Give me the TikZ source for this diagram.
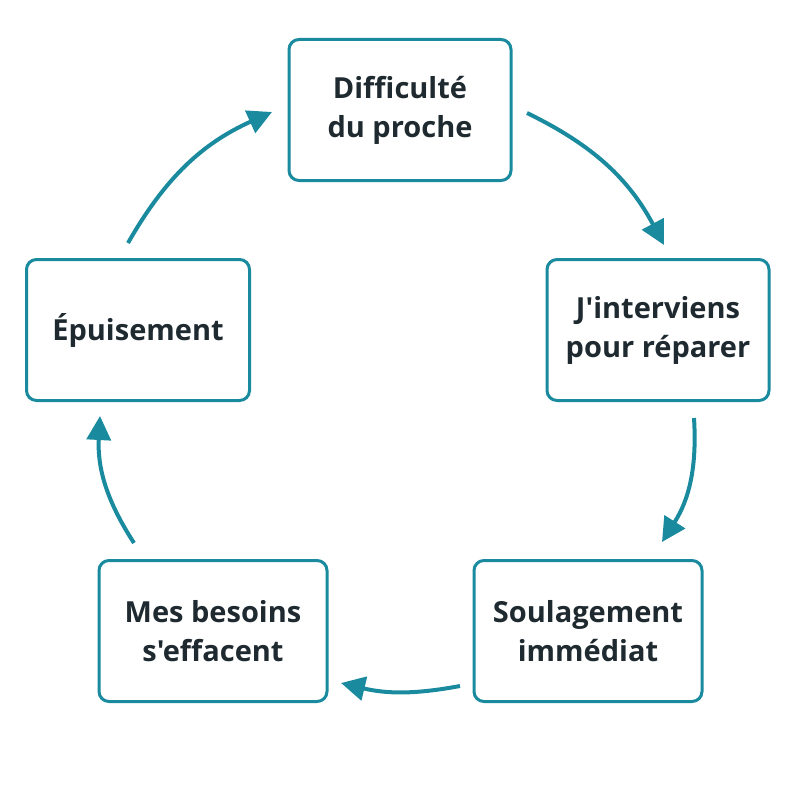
\documentclass[tikz,border=0pt]{standalone}
\usepackage{fontspec}
\setmainfont{Open Sans}[Ligatures=TeXOff]
\usetikzlibrary{arrows.meta}
\definecolor{teal1}{HTML}{1A8A9E}
\definecolor{ink}{HTML}{1E2A30}
\begin{document}
\begin{tikzpicture}[x=1pt,y=-1pt,
  box/.style={draw=teal1,line width=3pt,rounded corners=10pt,minimum width=222pt,minimum height=141pt,align=center,text=ink,font=\fontsize{29}{39}\selectfont\bfseries},
  arr/.style={draw=teal1,line width=4pt,-{Triangle[length=24pt,width=24pt]}}]
\useasboundingbox (0,0) rectangle (800,800);
\node[box] (a) at (400,110) {Difficulté\\du proche};
\node[box] (b) at (658,330) {J'interviens\\pour réparer};
\node[box,minimum width=228pt] (c) at (588,631) {Soulagement\\immédiat};
\node[box,minimum width=228pt] (d) at (213,631) {Mes besoins\\s'effacent};
\node[box,minimum width=223pt] (e) at (138,330) {Épuisement};
\coordinate (a1) at (527,113); \coordinate (a2) at (664,245);
\coordinate (b1) at (694,418); \coordinate (b2) at (662,542);
\coordinate (c1) at (460,686); \coordinate (c2) at (341,683);
\coordinate (d1) at (134,543); \coordinate (d2) at (100,416);
\coordinate (e1) at (128,243); \coordinate (e2) at (272,112);
\draw[arr] (a1) to[bend left=18] (a2);
\draw[arr] (b1) to[bend left=18] (b2);
\draw[arr] (c1) to[bend left=12] (c2);
\draw[arr] (d1) to[bend left=18] (d2);
\draw[arr] (e1) to[bend left=18] (e2);
\end{tikzpicture}
\end{document}
